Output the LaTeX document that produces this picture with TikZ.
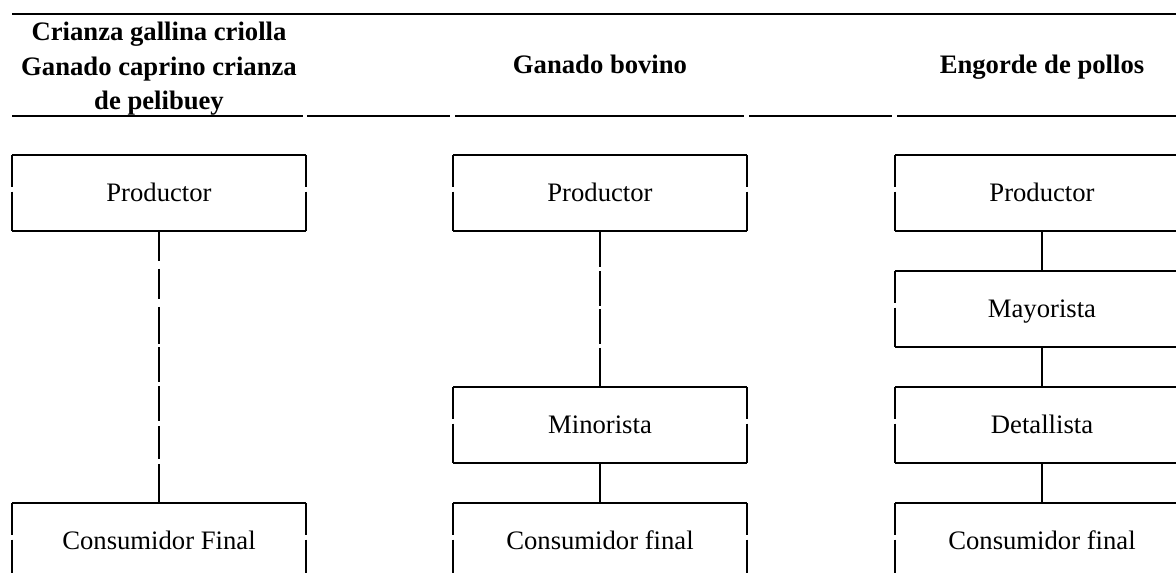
\documentclass[tikz,border=0pt]{standalone}
\usepackage{fontspec}
\setmainfont{Liberation Serif}
\usetikzlibrary{positioning}

\begin{document}
\begin{tikzpicture}[
  x=0.45pt, y=-0.45pt,
  node distance=18pt,
  cell/.style={minimum width=132.3pt, minimum height=34.2pt, inner sep=0pt, outer sep=0pt, text height=0.75em, text depth=0pt, font=\fontsize{12}{14}\selectfont},
  head/.style={align=center, inner sep=0pt, font=\bfseries\fontsize{12}{15.5}\selectfont},
  rule/.style={line width=0.9pt},
  link/.style={line width=0.9pt},
  brokenA/.style={link, dash pattern=on 13.5pt off 3.6pt on 13.5pt off 3.6pt on 16.65pt off 1.35pt on 15.75pt off 1.8pt on 15.75pt off 2.25pt on 14.85pt off 2.25pt on 30pt off 0pt},
  brokenB/.style={link, dash pattern=on 16.2pt off 1.8pt on 15.75pt off 1.35pt on 15.75pt off 1.8pt on 30pt off 0pt}
]
\useasboundingbox (0,0) rectangle (1176,573);
\clip (0,0) rectangle (1176,573);

% headings
\node[head] (headA) at (159,69) {Crianza gallina criolla\\Ganado caprino crianza\\de pelibuey};
\node[head, text height=0.75em, text depth=0pt] (headB) at (600,65) {Ganado bovino};
\node[head, text height=0.75em, text depth=0pt] (headC) at (1042,65) {Engorde de pollos};

\draw[line width=0.7pt] (12,14) -- (1176,14);
\foreach \a/\b in {12/303, 307/450, 455/744, 749/892, 897/1176}
  \draw[rule] (\a,116) -- (\b,116);

% chains
\node[cell] (prodA) at (159,193) {Productor};
\node[cell] (prodB) at (600,193) {Productor};
\node[cell] (prodC) at (1042,193) {Productor};
\node[cell, below=of prodC] (mayC) {Mayorista};
\node[cell, below=of mayC] (detC) {Detallista};
\node[cell, below=of detC] (consC) {Consumidor final};
\node[cell] (minB) at (prodB |- detC) {Minorista};
\node[cell] (consB) at (prodB |- consC) {Consumidor final};
\node[cell] (consA) at (prodA |- consC) {Consumidor Final};

\foreach \n in {prodA,prodB,prodC,mayC,detC,minB,consA,consB,consC} {
  \draw[rule] (\n.north west) -- (\n.north east) (\n.south west) -- (\n.south east);
  \draw[rule] (\n.north west) -- ([yshift=2.5pt]\n.west) ([yshift=0.6pt]\n.west) -- (\n.south west);
  \draw[rule] (\n.north east) -- ([yshift=2.5pt]\n.east) ([yshift=0.6pt]\n.east) -- (\n.south east);
}

\draw[brokenA] (prodA) -- (consA);
\draw[brokenB] (prodB) -- (minB); \draw[link] (minB) -- (consB);
\draw[link] (prodC) -- (mayC); \draw[link] (mayC) -- (detC); \draw[link] (detC) -- (consC);
\end{tikzpicture}
\end{document}
